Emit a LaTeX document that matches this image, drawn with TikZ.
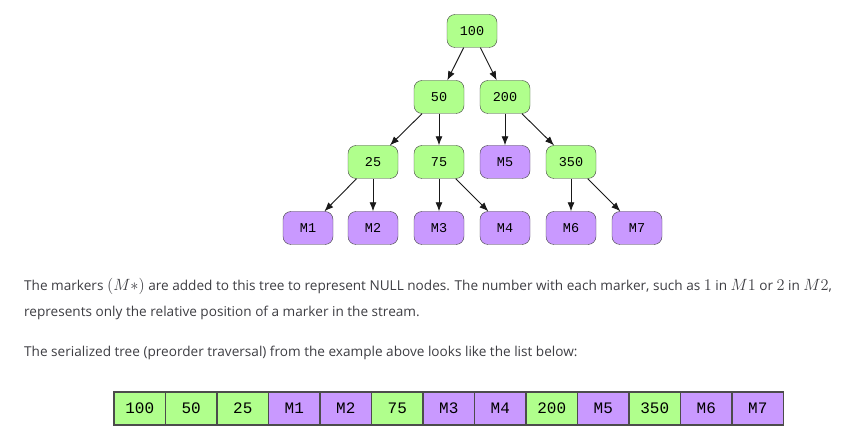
\RequirePackage{fix-cm}
\documentclass[tikz,border=0pt]{standalone}
\usepackage{fontspec}
\setmainfont{Open Sans}
\newfontfamily\codefont{Liberation Mono}
\newcommand{\kmath}[1]{{\fontsize{16.3}{15}\selectfont$#1$}}
\usetikzlibrary{positioning,arrows.meta}

\begin{document}
\begin{tikzpicture}[x=1pt,y=-1pt,
    tree_val/.style={draw=black!75,fill=color_val,rounded corners=8pt,minimum width=50pt,minimum height=33pt,inner sep=0,font=\codefont\fontsize{13.5}{14}\selectfont},
    tree_mark/.style={tree_val,fill=color_mark},
    list_val/.style={draw=black!70,line width=1.2pt,fill=color_val,minimum width=51.5pt,minimum height=33pt,inner sep=0,font=\codefont\fontsize{16}{16}\selectfont},
    list_mark/.style={list_val,fill=color_mark},
    edge_arr/.style={-{Latex[length=9pt,width=7pt]},black!90,line width=0.9pt},
    body_text/.style={anchor=base west,inner sep=0,text=color_text,font=\fontsize{13.6}{15}\selectfont}]
    \definecolor{color_val}{rgb}{0.69, 1, 0.55}
    \definecolor{color_mark}{rgb}{0.79, 0.6, 1}
    \definecolor{color_text}{rgb}{0.24, 0.24, 0.26}
    \useasboundingbox (0,0) rectangle (852,435);

    \node[tree_val] (n_100) at (472,31) {100};

    \node[tree_val] (n_50) at (439,97) {50};
    \node[tree_val] (n_200) at (505,97) {200};

    \node[tree_val] (n_25) at (373,162) {25};
    \node[tree_val] (n_75) at (439,162) {75};
    \node[tree_mark] (m_5) at (505,162) {M5};
    \node[tree_val] (n_350) at (571,162) {350};

    \node[tree_mark] (m_1) at (308,228) {M1};
    \node[tree_mark] (m_2) at (373,228) {M2};
    \node[tree_mark] (m_3) at (439,228) {M3};
    \node[tree_mark] (m_4) at (505,228) {M4};
    \node[tree_mark] (m_6) at (571,228) {M6};
    \node[tree_mark] (m_7) at (637,228) {M7};

    \draw[edge_arr] (n_100) -- (n_50);
    \draw[edge_arr] (n_100) -- (n_200);
    \draw[edge_arr] (n_50) -- (n_25);
    \draw[edge_arr] (n_50) -- (n_75);
    \draw[edge_arr] (n_200) -- (m_5);
    \draw[edge_arr] (n_200) -- (n_350);
    \draw[edge_arr] (n_25) -- (m_1);
    \draw[edge_arr] (n_25) -- (m_2);
    \draw[edge_arr] (n_75) -- (m_3);
    \draw[edge_arr] (n_75) -- (m_4);
    \draw[edge_arr] (n_350) -- (m_6);
    \draw[edge_arr] (n_350) -- (m_7);

    \node[body_text] (line_one) at (24,291) {The markers \kmath{(M*)} are added to this tree to represent NULL nodes. The number with each marker, such as \kmath{1} in \kmath{M1} or \kmath{2} in \kmath{M2},};
    \node[body_text] (line_two) at (24,317) {represents only the relative position of a marker in the stream.};
    \node[body_text] (line_three) at (24,357) {The serialized tree (preorder traversal) from the example above looks like the list below:};

    \foreach \val/\kind [count=\i] in {100/val,50/val,25/val,M1/mark,M2/mark,75/val,M3/mark,M4/mark,200/val,M5/mark,350/val,M6/mark,M7/mark}
      \node[list_\kind] (cell_\i) at ({114+51.5*(\i-0.5)},408.5) {\val};

\end{tikzpicture}
\end{document}
